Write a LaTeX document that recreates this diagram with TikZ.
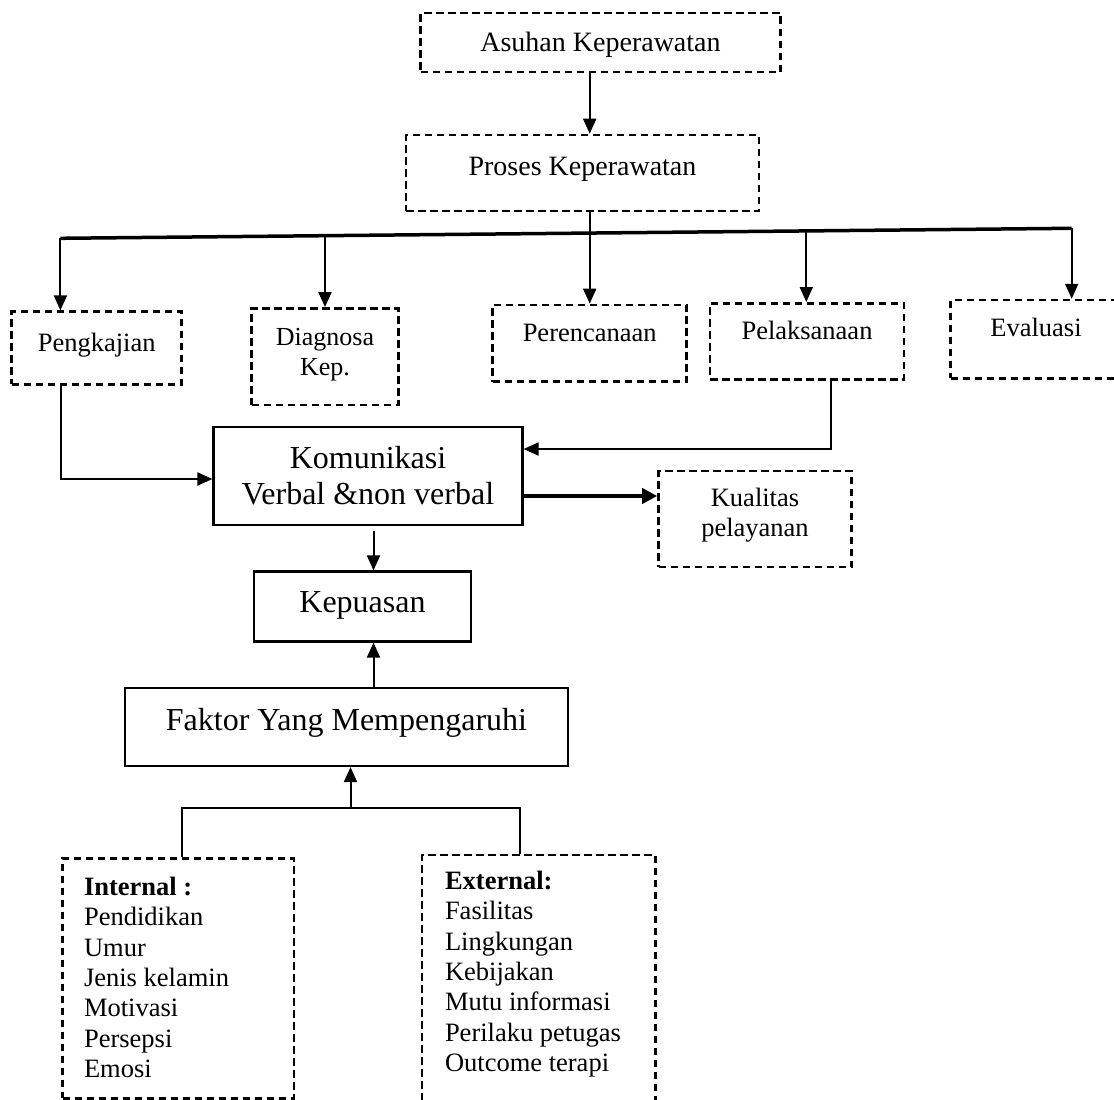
\documentclass[tikz,border=0pt]{standalone}
\usepackage{fontspec}
\setmainfont{Liberation Serif}
\usetikzlibrary{arrows.meta}
\newcommand\FntS{\fontsize{26.5}{30.4}\selectfont}
\newcommand\FntD{\fontsize{26}{30}\selectfont}
\newcommand\FntQ{\fontsize{26.5}{30.5}\selectfont}
\newcommand\FntM{\fontsize{28}{32}\selectfont}
\newcommand\FntL{\fontsize{32}{36.5}\selectfont}
\tikzset{
  dbox/.style={draw, inner sep=0pt, line width=2.6pt, dash pattern=on 7.5pt off 4.5pt},
  sbox/.style={draw, inner sep=0pt, line width=2.2pt},
  conn/.style={line width=2pt},
  arr/.style={conn, -{Triangle[length=15pt,width=13pt]}},
}
\begin{document}
\begin{tikzpicture}[x=1pt,y=-1pt]
\useasboundingbox (0,0) rectangle (1114,1100);
\clip (0,0) rectangle (1114,1100);

% top boxes
\node[dbox, minimum width=360pt, minimum height=59pt, font=\FntM, text height=18.5pt, text depth=0pt] (asuhan) at (600.5,42.5) {Asuhan Keperawatan};
\node[dbox, minimum width=353pt, minimum height=76pt, font=\FntM, text height=18.5pt, text depth=13pt] (proses) at (582.5,173) {Proses Keperawatan};

% second row
\node[dbox, minimum width=170pt, minimum height=72.6pt, font=\FntS, text height=17.5pt, text depth=10pt] (pengk) at (96.7,348) {Pengkajian};
\node[dbox, minimum width=146.7pt, minimum height=96.7pt, font=\FntD, text height=47.2pt, text depth=9pt] (diag) at (325,356.7) {\begin{tabular}[b]{@{}c@{}}Diagnosa\\Kep.\end{tabular}};
\node[dbox, minimum width=194pt, minimum height=76.7pt, font=\FntS, text height=17.5pt, text depth=21.6pt] (perenc) at (589.7,343.3) {Perencanaan};
\node[dbox, minimum width=194pt, minimum height=76pt, font=\FntS, text height=17.5pt, text depth=21.6pt] (pelak) at (807,341.3) {Pelaksanaan};
\node[dbox, minimum width=170.6pt, minimum height=78.3pt, font=\FntS, text height=17.5pt, text depth=23pt] (evalu) at (1036,339.2) {Evaluasi};

% middle
\node[sbox, minimum width=309pt, minimum height=98.3pt, font=\FntL, text height=57.7pt, text depth=0pt] (komun) at (368,475.8) {\begin{tabular}[b]{@{}c@{}}Komunikasi\\Verbal \&non verbal\end{tabular}};
\node[dbox, minimum width=193pt, minimum height=96pt, font=\FntQ, text height=48pt, text depth=12.8pt] (kual) at (755,519) {\begin{tabular}[b]{@{}c@{}}Kualitas\\pelayanan\end{tabular}};
\node[sbox, minimum width=216.4pt, minimum height=70pt, font=\FntL, text height=21.2pt, text depth=10pt] (kepu) at (362.5,606.5) {Kepuasan};
\node[sbox, minimum width=443pt, minimum height=78pt, font=\FntL, text height=21.2pt, text depth=15pt] (faktor) at (346.5,727) {Faktor Yang Mempengaruhi};

% bottom lists
\node[dbox, minimum width=231.3pt, minimum height=240pt, font=\FntS, text height=199.9pt, text depth=1pt] (intern) at (178.2,978.3)
  {\makebox[231.3pt][l]{\hspace{21.5pt}\begin{tabular}[b]{@{}l@{}}\textbf{Internal :}\\Pendidikan\\Umur\\Jenis kelamin\\Motivasi\\Persepsi\\Emosi\end{tabular}}};
\node[dbox, minimum width=233.4pt, minimum height=255pt, font=\FntS, text height=199.3pt, text depth=21pt] (extern) at (538.7,982.5)
  {\makebox[233.4pt][l]{\hspace{23pt}\begin{tabular}[b]{@{}l@{}}\textbf{External:}\\Fasilitas\\Lingkungan\\Kebijakan\\Mutu informasi\\Perilaku petugas\\Outcome terapi\end{tabular}}};

% connectors top
\draw[arr] (asuhan.south -| perenc.north) -- (proses.north -| perenc.north);
\coordinate (busL) at (60.4,238.3);
\coordinate (busR) at (1071.7,228.3);
\coordinate (bD) at (325,235.7);
\coordinate (bP) at (806.3,230.9);
\draw[line width=3.5pt] (busL) -- (busR);
\draw[arr] (busL) -- (busL |- pengk.north);
\draw[arr] (bD) -- (bD |- diag.north);
\draw[arr] (proses.south -| perenc.north) -- (perenc.north);
\draw[arr] (bP) -- (bP |- pelak.north);
\draw[arr] (busR) -- (busR |- evalu.north);

% to Komunikasi
\coordinate (pl) at (60.5,479);
\draw[arr] (pengk.south -| pl) -- (pl) -- (komun.west |- pl);
\coordinate (pr) at (831,449);
\draw[arr] (pelak.south -| pr) -- (pr) -- (komun.east |- pr);
\coordinate (kq) at (600,496);
\draw[line width=4pt, -{Triangle[length=15pt,width=15pt]}] (komun.east |- kq) -- (kual.west |- kq);

% Kepuasan
\coordinate (kx) at (373.5,600);
\draw[arr, shorten <=5pt] (komun.south -| kx) -- (kepu.north -| kx);
\draw[arr] (faktor.north -| kx) -- (kepu.south -| kx);

% bracket
\coordinate (bl) at (182,808);
\coordinate (br) at (519.5,808);
\coordinate (bm) at (350.5,808);
\draw[conn] (intern.north -| bl) -- (bl) -- (br) -- (extern.north -| br);
\draw[arr] (bm) -- (faktor.south -| bm);
\end{tikzpicture}
\end{document}
